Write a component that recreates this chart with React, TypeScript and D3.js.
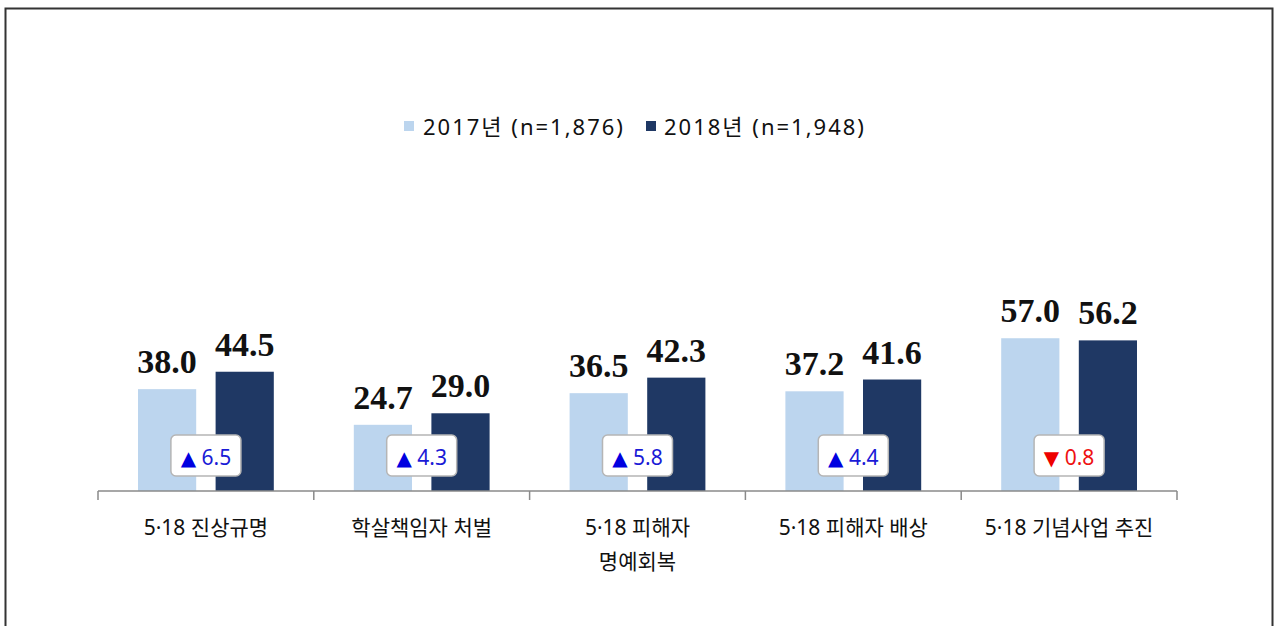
import { useEffect } from "react";
import * as d3 from "d3";

const CATEGORIES = [
  ["5·18 진상규명"],
  ["학살책임자  처벌"],
  ["5·18 피해자", "명예회복"],
  ["5·18 피해자 배상"],
  ["5·18 기념사업  추진"],
];
const SERIES = ["2017년 (n=1,876)", "2018년 (n=1,948)"];
const VALUES_2017 = [38.0, 24.7, 36.5, 37.2, 57.0];
const VALUES_2018 = [44.5, 29.0, 42.3, 41.6, 56.2];
const CHANGES = ["6.5", "4.3", "5.8", "4.4", "0.8"];
const CHANGE_UP = [true, true, true, true, false];

const COLORS = ["#bcd5ee", "#1f3864"];
const W = 1275;
const H = 626;
const BASE_Y = 491;
const AXIS_X0 = 98;
const AXIS_X1 = 1177;
const SANS = "'Noto Sans', 'Noto Sans CJK KR', sans-serif";
const SERIF = "'Liberation Serif', 'DejaVu Serif', serif";

export default function App() {
  useEffect(() => {
    document.body.style.margin = "0";
  }, []);

  const keys = CATEGORIES.map((c) => c.join(" "));
  const x = d3.scaleBand().domain(keys).range([AXIS_X0, AXIS_X1]).padding(0);
  const inner = d3
    .scaleBand()
    .domain(["0", "1"])
    .range([40, x.bandwidth() - 40])
    .paddingInner(0.25);
  const y = d3.scaleLinear().domain([0, 100]).range([BASE_Y, BASE_Y - 268]);

  const rows = keys.map((k, i) => ({
    key: k,
    lines: CATEGORIES[i],
    vals: [VALUES_2017[i], VALUES_2018[i]],
    change: CHANGES[i],
    up: CHANGE_UP[i],
  }));

  const ticks = [...keys.map((k) => x(k) ?? 0), AXIS_X1];

  return (
    <svg
      width={W}
      height={H}
      style={{ position: "absolute", left: 0, top: 0, background: "#fff" }}
    >
      {/* frame */}
      <rect
        x={5.5}
        y={8.5}
        width={1267}
        height={640}
        fill="none"
        stroke="#333"
        strokeWidth={2}
      />

      {/* legend */}
      <g fontFamily={SANS} fontSize={22} fill="#111" letterSpacing={2}>
        <rect x={404} y={121} width={10} height={10} fill={COLORS[0]} />
        <text x={423} y={127} dy="0.35em">
          {SERIES[0]}
        </text>
        <rect x={646} y={121} width={10} height={10} fill={COLORS[1]} />
        <text x={664} y={127} dy="0.35em">
          {SERIES[1]}
        </text>
      </g>

      {/* bars */}
      {rows.map((r) => (
        <g key={r.key} transform={`translate(${x(r.key)},0)`}>
          {r.vals.map((v, j) => {
            const bx = inner(String(j)) ?? 0;
            return (
              <g key={j}>
                <rect
                  x={bx}
                  y={y(v)}
                  width={inner.bandwidth()}
                  height={BASE_Y - y(v)}
                  fill={COLORS[j]}
                />
                <text
                  x={bx + inner.bandwidth() / 2}
                  y={y(v) - 16}
                  textAnchor="middle"
                  fontFamily={SERIF}
                  fontWeight="bold"
                  fontSize={34}
                  fill="#111"
                >
                  {v.toFixed(1)}
                </text>
              </g>
            );
          })}
        </g>
      ))}

      {/* axis */}
      <line x1={AXIS_X0} x2={AXIS_X1} y1={BASE_Y} y2={BASE_Y} stroke="#8a8a8a" strokeWidth={1.5} />
      {ticks.map((t, i) => (
        <line key={i} x1={t} x2={t} y1={BASE_Y} y2={BASE_Y + 9} stroke="#8a8a8a" strokeWidth={1.5} />
      ))}

      {/* category labels */}
      {rows.map((r) => (
        <text
          key={r.key}
          x={(x(r.key) ?? 0) + x.bandwidth() / 2}
          y={528}
          textAnchor="middle"
          fontFamily={SANS}
          fontSize={21}
          fill="#111"
        >
          {r.lines.map((l, i) => (
            <tspan key={i} x={(x(r.key) ?? 0) + x.bandwidth() / 2} dy={i === 0 ? "0.35em" : 34}>
              {l}
            </tspan>
          ))}
        </text>
      ))}

      {/* change boxes */}
      {rows.map((r) => {
        const cx = (x(r.key) ?? 0) + x.bandwidth() / 2;
        const bw = 70;
        return (
          <g key={r.key}>
            <rect
              x={cx - bw / 2}
              y={435}
              width={bw}
              height={41}
              rx={5}
              fill="#fff"
              stroke="#b5b5b5"
              strokeWidth={1.5}
            />
            <text
              x={cx}
              y={458}
              dy="0.35em"
              textAnchor="middle"
              fontFamily={SANS}
              fontSize={21}
              fill={r.up ? "#1a1ad6" : "#ee1111"}
            >
              <tspan fill={r.up ? "#0000e0" : "#ee0000"} fontSize={20} fontFamily="'DejaVu Sans', sans-serif">
                {r.up ? "▲" : "▼"}
              </tspan>
              {" " + r.change}
            </text>
          </g>
        );
      })}
    </svg>
  );
}
